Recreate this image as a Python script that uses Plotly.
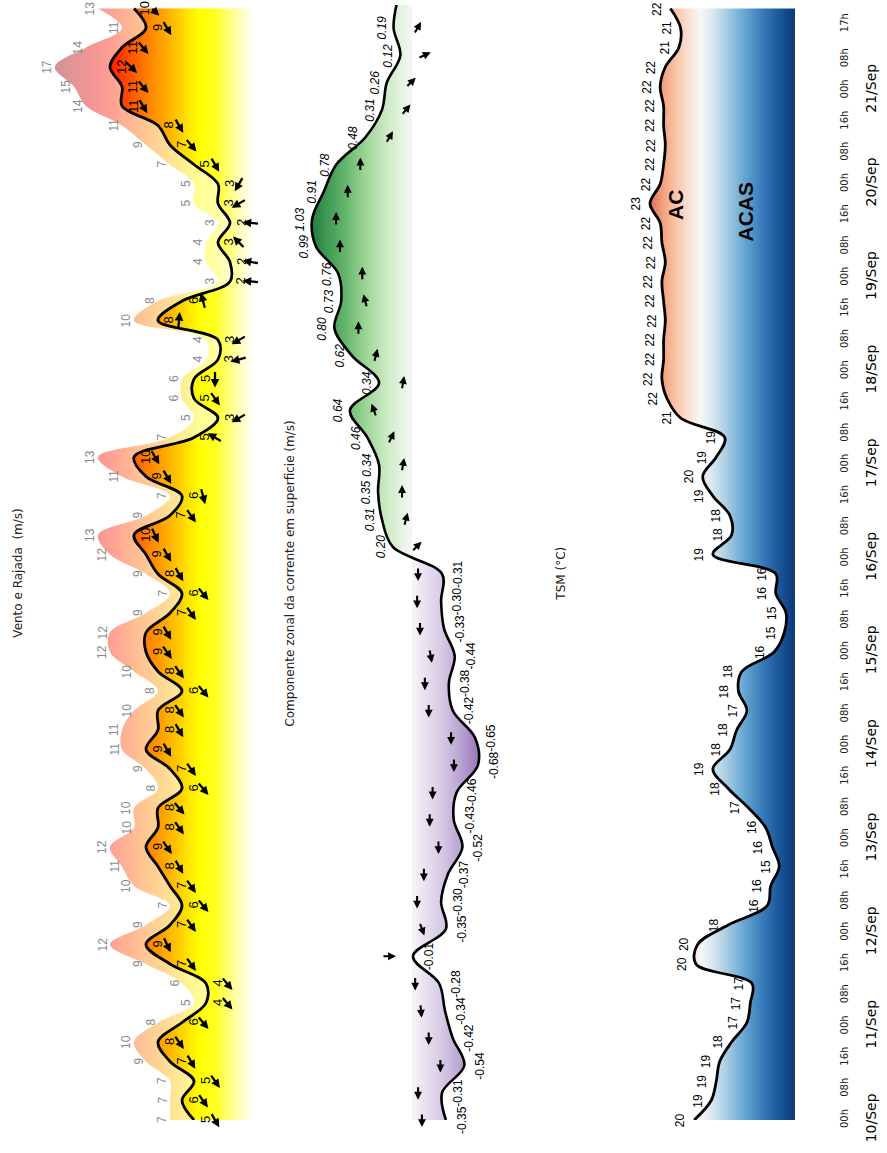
import numpy as np
import plotly.graph_objects as go

# ---------------- data (time = hours since 10/Sep 00h) ----------------
wind_hours = list(range(0, 286, 5))
wind_speed = [5, 6, 5, 7, 8, 6, 4, 4, 7, 9,
              7, 6, 7, 8, 9, 8, 8, 6, 7, 9,
              8, 8, 6, 8, 9, 9, 7, 6, 8, 9,
              10, 7, 6, 9, 10, 5, 3, 5, 5, 3,
              3, 8, 6, 2, 2, 3, 2, 3, 3, 5,
              7, 8, 11, 11, 12, 11, 9, 10]
gust_speed = [7, 7, 7, 9, 10, 8, 5, 6, 9, 12,
              9, 7, 10, 11, 12, 10, 10, 8, 9, 11,
              11, 10, 8, 10, 12, 12, 9, 7, 9, 12,
              13, 9, 7, 11, 13, 7, 5, 6, 6, 4,
              4, 10, 8, 3, 4, 4, 3, 5, 5, 7,
              9, 11, 14, 15, 16.6, 14, 11, 13]
wind_from_deg = [60, 55, 55, 60, 55, 50, 50, 50, 55, 65,
                 55, 50, 55, 60, 55, 55, 50, 50, 55, 60,
                 60, 55, 50, 55, 55, 60, 55, 50, 60, 60,
                 65, 55, 75, 60, 60, 210, 150, 55, 90, 165,
                 150, 275, 255, 185, 190, 225, 185, 150, 120, 60,
                 50, 60, 60, 50, 45, 50, 60, 60]

current_hours = list(range(0, 288, 7))
current_u = [-0.35, -0.31, -0.54, -0.42, -0.34, -0.28, -0.01, -0.35, -0.30, -0.37,
             -0.52, -0.43, -0.46, -0.68, -0.65, -0.42, -0.38, -0.44, -0.33, -0.30, -0.31,
             0.20, 0.31, 0.35, 0.34, 0.46, 0.64, 0.34, 0.62, 0.80, 0.73,
             0.76, 0.99, 1.03, 0.91, 0.78, 0.48, 0.31, 0.26, 0.12, 0.19, 0.15]
current_to_deg = [270, 270, 270, 270, 265, 270, 180, 250, 270, 270,
                  270, 270, 270, 270, 270, 270, 270, 260, 270, 270, 270,
                  135, 105, 90, 100, 115, 70, 100, 105, 90, 75,
                  90, 90, 90, 90, 90, 120, 130, 135, 155, 120, 120]

tsm_hours = list(range(0, 286, 5))
tsm_c = [20.4, 19.4, 19.1, 18.9, 18.2, 17.3, 17.1, 17.0, 20.3, 20.2,
         18.4, 16.1, 15.9, 15.4, 15.8, 16.2, 17.2, 18.4, 19.3, 18.3,
         17.9, 17.3, 17.8, 17.6, 15.7, 15.1, 15.0, 15.6, 15.6, 19.3,
         18.2, 18.3, 19.3, 19.9, 19.1, 18.6, 21.2, 22.0, 22.3, 22.2,
         22.2, 22.1, 22.2, 22.3, 22.1, 22.3, 22.4, 23.0, 22.4, 22.2,
         22.1, 22.2, 22.2, 22.4, 22.1, 21.3, 21.2, 21.8]

hour_tick_hours = list(range(0, 273, 8)) + [281]
hour_tick_text = (["00h", "08h", "16h"] * 12)[:35] + ["17h"]
date_tick_hours = list(range(0, 265, 24))
date_tick_text = ["10/Sep", "11/Sep", "12/Sep", "13/Sep", "14/Sep", "15/Sep",
                  "16/Sep", "17/Sep", "18/Sep", "19/Sep", "20/Sep", "21/Sep"]

# ---------------- layout constants ----------------
W, H = 887, 1153
Y_MAX = 285.9
WIND_RANGE = [20, 0]
CUR_RANGE = [(412 - 300) / 97, -(545 - 412) / 97]
TSM_RANGE = [23 + 50 / 17, 23 - 145 / 17]


def dom(a, b):
    return [a / W, b / W]


def hex_rgba(h, a):
    h = h.lstrip('#')
    r, g, b = int(h[0:2], 16), int(h[2:4], 16), int(h[4:6], 16)
    return f"rgba({r},{g},{b},{a})"


def cscale(stops, lo, hi, alpha=None):
    out = []
    for v, c in stops:
        p = (v - lo) / (hi - lo)
        out.append([min(max(p, 0), 1), hex_rgba(c, alpha) if alpha is not None else c])
    return out


wind_stops = [(0, '#ffffff'), (0.8, '#ffffd2'), (2, '#ffff80'), (3.2, '#ffff25'), (4.5, '#ffff00'),
              (5.5, '#ffe400'), (6.5, '#ffc400'), (7.5, '#ffa600'), (8.5, '#ff8a00'),
              (9.5, '#ff6c00'), (10.5, '#ff4c00'), (11.5, '#ff2c00'), (12.5, '#f81000'),
              (14, '#d80000'), (16, '#a00000'), (20, '#600000')]
cur_stops = [(-0.8, '#7b56a6'), (-0.68, '#9a78bb'), (-0.5, '#b9a3d2'), (-0.3, '#d8cbe6'),
             (-0.1, '#ece6f3'), (0, '#f6f6f6'), (0.1, '#e6f4e2'), (0.3, '#c5e7bd'),
             (0.5, '#97d291'), (0.7, '#62b46a'), (0.9, '#3b9550'), (1.05, '#1e7a3a'), (1.1, '#17703a')]
tsm_stops = [(14, '#08306b'), (14.5, '#0b3a78'), (15.5, '#1c5b9c'), (16.5, '#3b7fbd'),
             (17.5, '#6aa9d3'), (18.5, '#a8cde4'), (19.4, '#dce9f2'), (20.0, '#f7f6f5'),
             (20.7, '#fbe3d6'), (21.5, '#f8c3a6'), (22.2, '#f2a482'), (23, '#dc6f55'),
             (24, '#c03a35'), (26, '#8b0f25')]

fig = go.Figure()

# gust (translucent) fill
fig.add_trace(go.Scatter(
    x=gust_speed, y=wind_hours, xaxis='x', yaxis='y', mode='lines',
    line=dict(width=0, shape='spline', color='rgba(0,0,0,0)'), fill='tozerox',
    fillgradient=dict(type='horizontal', colorscale=cscale(wind_stops, 0, 20, 0.42), start=0, stop=20),
    hoverinfo='skip', showlegend=False))
# wind fill + line
fig.add_trace(go.Scatter(
    x=wind_speed, y=wind_hours, xaxis='x', yaxis='y', mode='lines',
    line=dict(width=2.8, shape='spline', color='black'), fill='tozerox',
    fillgradient=dict(type='horizontal', colorscale=cscale(wind_stops, 0, 20), start=0, stop=20),
    hoverinfo='skip', showlegend=False))
# current
fig.add_trace(go.Scatter(
    x=current_u, y=current_hours, xaxis='x2', yaxis='y', mode='lines',
    line=dict(width=2.6, shape='spline', color='black'), fill='tozerox',
    fillgradient=dict(type='horizontal', colorscale=cscale(cur_stops, -0.8, 1.1), start=-0.8, stop=1.1),
    hoverinfo='skip', showlegend=False))
# TSM
fig.add_trace(go.Scatter(
    x=tsm_c, y=tsm_hours, xaxis='x3', yaxis='y', mode='lines',
    line=dict(width=2.8, shape='spline', color='black'), fill='tozerox',
    fillgradient=dict(type='horizontal', colorscale=cscale(tsm_stops, 14, 26), start=14, stop=26),
    hoverinfo='skip', showlegend=False))
# carrier for the date axis
fig.add_trace(go.Scatter(x=[None], y=[None], xaxis='x', yaxis='y2', mode='lines',
                         hoverinfo='skip', showlegend=False))

ann = []
LAB = 'Liberation Sans, Arial, sans-serif'
DV = 'DejaVu Sans, sans-serif'


def label(x, y, xref, text, xshift, size, color, italic=False):
    ann.append(dict(x=x, y=y, xref=xref, yref='y', text=text, showarrow=False, textangle=-90,
                    xanchor='center', yanchor='middle',
                    xshift=xshift, font=dict(size=size, color=color, family=LAB,
                                             style='italic' if italic else 'normal')))


def arrow(x, y, xref, page_deg, length, offset, width):
    th = np.deg2rad(page_deg)
    ux, uyd = np.sin(th), -np.cos(th)
    ann.append(dict(x=x, y=y, xref=xref, yref='y', text='', showarrow=True,
                    arrowhead=2, arrowsize=0.75, arrowwidth=width, arrowcolor='black',
                    ax=float(-length * ux), ay=float(-length * uyd), axref='pixel', ayref='pixel',
                    xshift=float(offset + length / 2 * ux), yshift=float(-(length / 2) * uyd),
                    standoff=0, startstandoff=0))


for t, w, g, d in zip(wind_hours, wind_speed, gust_speed, wind_from_deg):
    if t > Y_MAX:
        continue
    label(g, t, 'x', f"{g:.0f}", -8, 12, '#8a8a8a')
    label(w, t, 'x', f"{w:.0f}", 11, 13, 'black')
    arrow(w, t, 'x', d + 90, 17, 21, 2.3)

for t, u, d in zip(current_hours, current_u, current_to_deg):
    if t > Y_MAX - 3:
        continue
    label(u, t, 'x2', f"{u:.2f}", -12 if u > 0 else 16, 12, 'black', italic=u > 0)
    arrow(u, t, 'x2', d - 90, 14, 24 if u > 0 else -24, 2.1)

for t, v in zip(tsm_hours, tsm_c):
    label(v, t, 'x3', f"{v:.0f}", -14, 12, 'black')

# titles and water-mass names
for xp, txt in [(18, "Vento e Rajada  (m/s)"),
                (290, "Componente zonal da corrente em superficie (m/s)"),
                (561, "TSM (°C)")]:
    ann.append(dict(x=xp / W, y=0.49, xref='paper', yref='paper', text=txt, showarrow=False,
                    xanchor='center', yanchor='middle',
                    textangle=-90, font=dict(size=12, color='#222', family=DV)))
ann.append(dict(x=21.5, y=234.5, xref='x3', yref='y', text='<b>AC</b>', showarrow=False,
                xanchor='center', yanchor='middle',
                textangle=-90, font=dict(size=21, color='black', family=LAB)))
ann.append(dict(x=17.4, y=233, xref='x3', yref='y', text='<b>ACAS</b>', showarrow=False,
                xanchor='center', yanchor='middle',
                textangle=-90, font=dict(size=21, color='black', family=LAB)))

hidden = dict(visible=False, showgrid=False, zeroline=False)
fig.update_layout(
    width=W, height=H, margin=dict(l=0, r=0, t=5, b=33),
    paper_bgcolor='white', plot_bgcolor='white', showlegend=False,
    xaxis=dict(domain=dom(14, 254), range=WIND_RANGE, **hidden),
    xaxis2=dict(domain=dom(300, 545), range=CUR_RANGE, **hidden),
    xaxis3=dict(domain=dom(600, 795), range=TSM_RANGE, **hidden),
    yaxis=dict(range=[0, Y_MAX], domain=[0, 1], showgrid=False, zeroline=False, showline=False,
               tickmode='array', tickvals=hour_tick_hours, ticktext=hour_tick_text,
               tickangle=-90, side='right', anchor='free', position=837 / W, ticks='',
               tickfont=dict(size=10, family=DV, color='#222')),
    yaxis2=dict(range=[0, Y_MAX], overlaying='y', showgrid=False, zeroline=False, showline=False,
                tickmode='array', tickvals=date_tick_hours, ticktext=date_tick_text,
                tickangle=-90, side='right', anchor='free', position=861 / W, ticks='',
                tickfont=dict(size=14, family=DV, color='black')),
    annotations=ann,
)

fig.write_html("out.html", config={'displayModeBar': False},
               post_script="document.body.style.margin='0';")
